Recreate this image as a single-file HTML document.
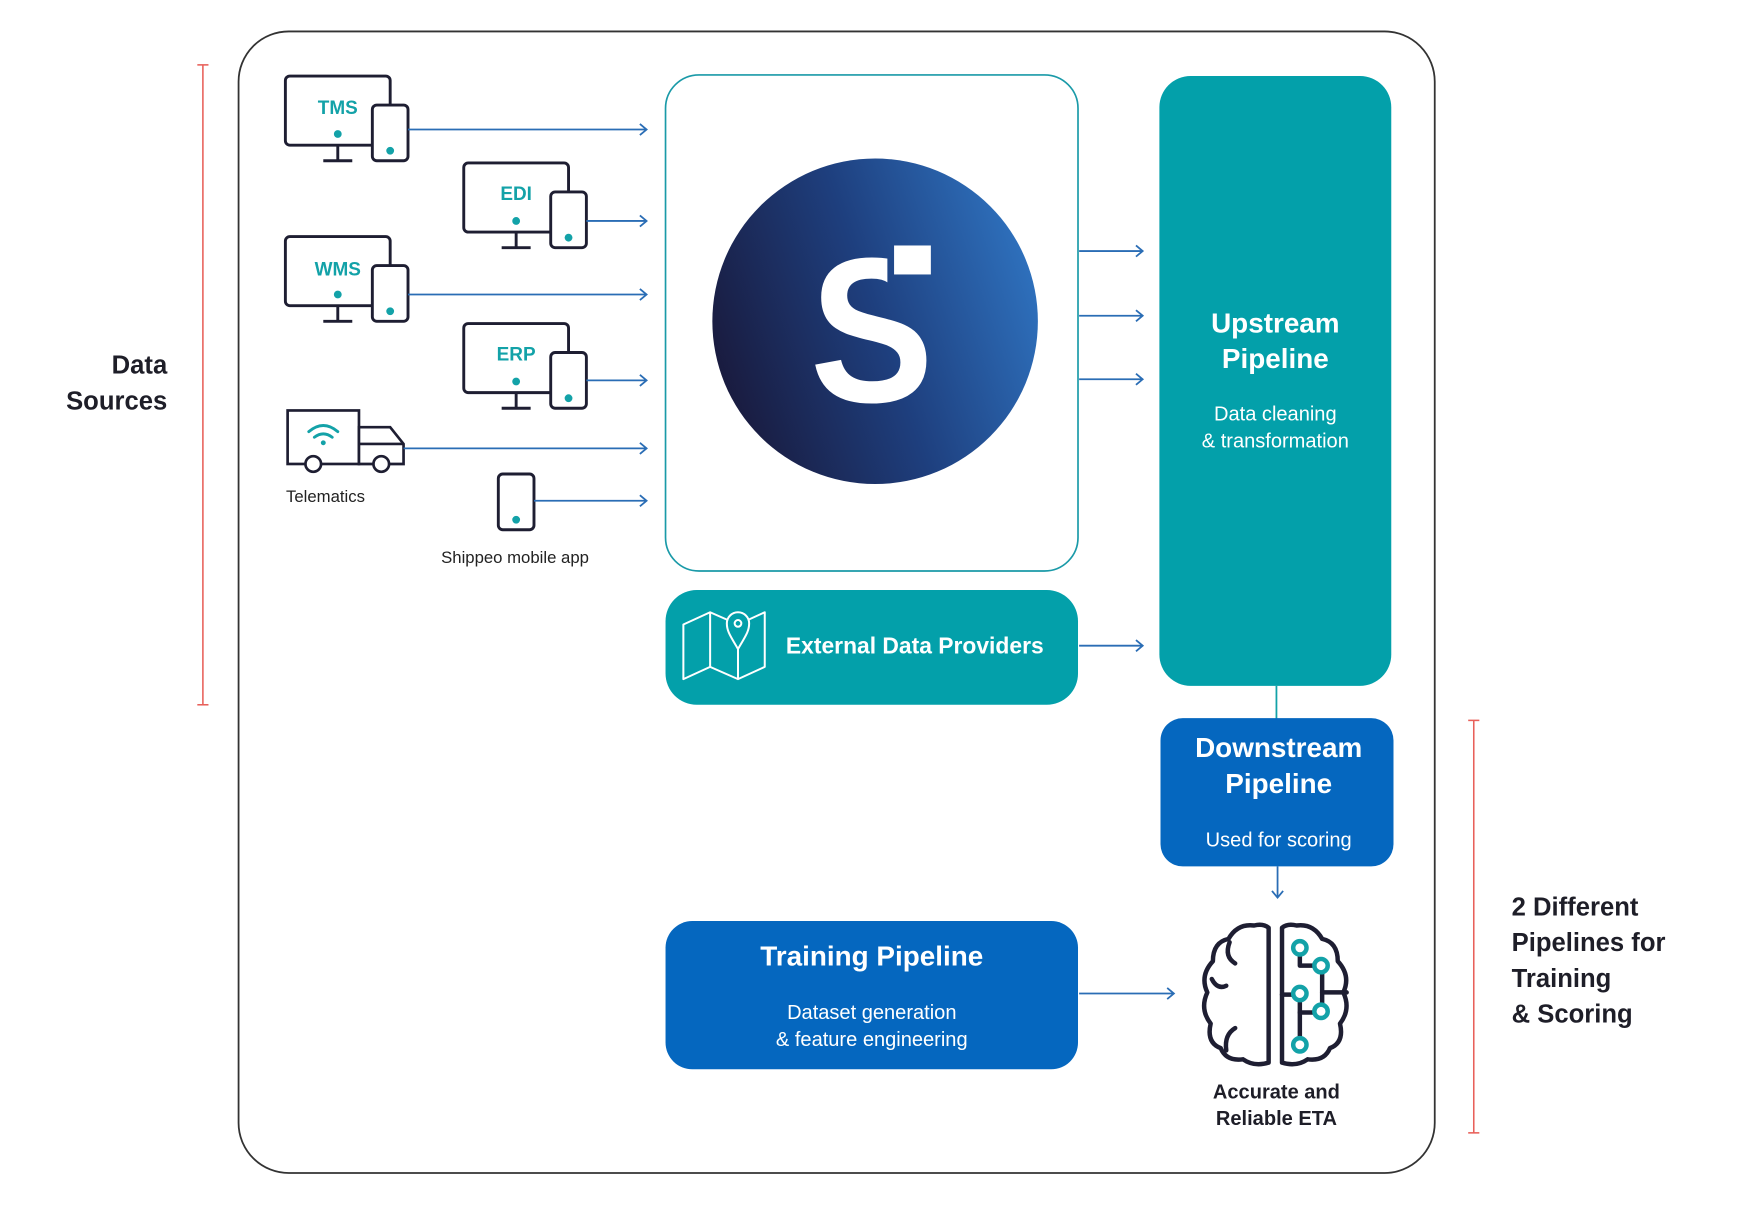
<!DOCTYPE html>
<html><head><meta charset="utf-8"><style>
html,body{margin:0;padding:0;background:#fff;width:1748px;height:1210px;overflow:hidden}
svg{display:block}
text{font-family:"Liberation Sans",sans-serif}
</style></head><body>
<svg width="1748" height="1210" viewBox="0 0 1568 1085" xmlns="http://www.w3.org/2000/svg">
<defs>
<linearGradient id="g" gradientUnits="userSpaceOnUse" x1="639" y1="330" x2="931" y2="230">
<stop offset="0" stop-color="#191a3d"/><stop offset="0.5" stop-color="#1e3f7e"/><stop offset="1" stop-color="#2f73c0"/>
</linearGradient>
<marker id="ah" markerWidth="12" markerHeight="12" refX="10" refY="6" orient="auto" markerUnits="userSpaceOnUse">
<path d="M4,1 L10,6 L4,11" fill="none" stroke="#2a6db5" stroke-width="1.6"/>
</marker>
<g id="dev">
<rect x="0" y="0" width="94" height="62" rx="4" fill="#fff" stroke="#1e1e32" stroke-width="2.6"/>
<line x1="47" y1="62" x2="47" y2="76" stroke="#1e1e32" stroke-width="2.6"/>
<line x1="34" y1="76" x2="60" y2="76" stroke="#1e1e32" stroke-width="2.6"/>
<circle cx="47" cy="52" r="3.5" fill="#13a2a8"/>
<rect x="78" y="26" width="32" height="50" rx="4" fill="#fff" stroke="#1e1e32" stroke-width="2.6"/>
<circle cx="94" cy="67" r="3.5" fill="#13a2a8"/>
</g>
</defs>
<rect x="214" y="28" width="1073" height="1024" rx="45" fill="none" stroke="#333" stroke-width="1.6"/>
<g stroke="#e8605a" stroke-width="1.4">
<line x1="182" y1="58" x2="182" y2="632"/><line x1="177" y1="58" x2="187" y2="58"/><line x1="177" y1="632" x2="187" y2="632"/>
<line x1="1322" y1="646" x2="1322" y2="1016"/><line x1="1317" y1="646" x2="1327" y2="646"/><line x1="1317" y1="1016" x2="1327" y2="1016"/>
</g>
<g font-weight="bold" font-size="23" fill="#1e1e28">
<text x="150" y="335" text-anchor="end">Data</text><text x="150" y="367" text-anchor="end">Sources</text>
<text x="1356" y="821">2 Different</text><text x="1356" y="853">Pipelines for</text><text x="1356" y="885">Training</text><text x="1356" y="917">&amp; Scoring</text>
</g>
<use href="#dev" x="256" y="68"/><text x="303" y="102" text-anchor="middle" font-weight="bold" font-size="17" fill="#13a2a8">TMS</text>
<use href="#dev" x="416" y="146"/><text x="463" y="179" text-anchor="middle" font-weight="bold" font-size="17" fill="#13a2a8">EDI</text>
<use href="#dev" x="256" y="212"/><text x="303" y="247" text-anchor="middle" font-weight="bold" font-size="17" fill="#13a2a8">WMS</text>
<use href="#dev" x="416" y="290"/><text x="463" y="323" text-anchor="middle" font-weight="bold" font-size="17" fill="#13a2a8">ERP</text>
<g stroke="#1e1e32" stroke-width="2.4" fill="#fff">
<rect x="258" y="368" width="64" height="48"/>
<path d="M322,383 L350,383 L362,398 L362,416 L322,416 Z"/>
<line x1="322" y1="398" x2="362" y2="398"/>
<circle cx="281" cy="416" r="7"/><circle cx="342" cy="416" r="7"/>
</g>
<g fill="none" stroke="#13a2a8" stroke-width="2.6" stroke-linecap="round">
<path d="M277,387 Q290,376 303,387"/><path d="M282,392 Q290,386 298,392"/>
</g>
<circle cx="290" cy="397" r="2.2" fill="#13a2a8"/>
<text x="292" y="450" text-anchor="middle" font-size="15" fill="#222">Telematics</text>
<rect x="447" y="425" width="32" height="50" rx="4" fill="#fff" stroke="#1e1e32" stroke-width="2.6"/>
<circle cx="463" cy="466" r="3.5" fill="#13a2a8"/>
<text x="462" y="505" text-anchor="middle" font-size="15" fill="#222">Shippeo mobile app</text>
<g stroke="#2a6db5" stroke-width="1.6" marker-end="url(#ah)">
<line x1="366" y1="116" x2="580" y2="116"/>
<line x1="526" y1="198" x2="580" y2="198"/>
<line x1="366" y1="264" x2="580" y2="264"/>
<line x1="526" y1="341" x2="580" y2="341"/>
<line x1="362" y1="402" x2="580" y2="402"/>
<line x1="479" y1="449" x2="580" y2="449"/>
<line x1="968" y1="225" x2="1025" y2="225"/>
<line x1="968" y1="283" x2="1025" y2="283"/>
<line x1="968" y1="340" x2="1025" y2="340"/>
<line x1="968" y1="579" x2="1025" y2="579"/>
<line x1="1146" y1="777" x2="1146" y2="805"/>
<line x1="968" y1="891" x2="1053" y2="891"/>
</g>
<line x1="1145" y1="615" x2="1145" y2="645" stroke="#13a2a8" stroke-width="1.6"/>
<rect x="597" y="67" width="370" height="445" rx="30" fill="#fff" stroke="#1a9aa8" stroke-width="1.5"/>
<circle cx="785" cy="288" r="146" fill="url(#g)"/>
<text x="782" y="360" text-anchor="middle" font-weight="bold" font-size="185" fill="#fff" transform="translate(782 0) scale(0.9 1) translate(-782 0)">S</text>
<rect x="796" y="205" width="50" height="64" fill="url(#g)"/>
<rect x="802" y="220" width="33" height="26" fill="#fff"/>
<rect x="1040" y="68" width="208" height="547" rx="28" fill="#03a0aa"/>
<g fill="#fff" text-anchor="middle">
<text x="1144" y="298" font-weight="bold" font-size="25">Upstream</text>
<text x="1144" y="330" font-weight="bold" font-size="25">Pipeline</text>
<text x="1144" y="377" font-size="18">Data cleaning</text>
<text x="1144" y="401" font-size="18">&amp; transformation</text>
</g>
<rect x="597" y="529" width="370" height="103" rx="28" fill="#03a0aa"/>
<g fill="none" stroke="#fff" stroke-width="1.8" stroke-linejoin="round">
<path d="M613,560 L637,549 L662,560 L686,549 L686,598 L662,609 L637,598 L613,609 Z"/>
<line x1="637" y1="549" x2="637" y2="598"/><line x1="662" y1="575" x2="662" y2="609"/>
<path d="M662,582 C655,570 652,566 652,559 A10,10 0 0 1 672,559 C672,566 669,570 662,582 Z" fill="#03a0aa"/>
<circle cx="662" cy="559" r="3"/>
</g>
<text x="705" y="586" font-weight="bold" font-size="20.5" fill="#fff">External Data Providers</text>
<rect x="1041" y="644" width="209" height="133" rx="20" fill="#0567bf"/>
<g fill="#fff" text-anchor="middle">
<text x="1147" y="679" font-weight="bold" font-size="25">Downstream</text>
<text x="1147" y="711" font-weight="bold" font-size="25">Pipeline</text>
<text x="1147" y="759" font-size="18">Used for scoring</text>
</g>
<rect x="597" y="826" width="370" height="133" rx="24" fill="#0567bf"/>
<g fill="#fff" text-anchor="middle">
<text x="782" y="866" font-weight="bold" font-size="25">Training Pipeline</text>
<text x="782" y="914" font-size="18">Dataset generation</text>
<text x="782" y="938" font-size="18">&amp; feature engineering</text>
</g>
<g fill="none" stroke="#1e1e32" stroke-width="4" stroke-linecap="round" stroke-linejoin="round">
<path d="M1138,832 L1138,953 Q1125,957 1115,950 Q1100,952 1095,940 Q1082,935 1086,918 Q1076,905 1083,890 Q1076,875 1088,862 Q1088,845 1102,842 Q1110,828 1125,830 Q1133,828 1138,832 Z"/>
<path d="M1150,832 L1150,953 Q1163,957 1173,950 Q1188,952 1193,940 Q1206,935 1202,918 Q1212,905 1205,890 Q1212,875 1200,862 Q1200,845 1186,842 Q1178,828 1163,830 Q1155,828 1150,832 Z"/>
<path d="M1103,845 Q1098,858 1108,864"/><path d="M1087,878 Q1092,888 1100,884"/><path d="M1108,922 Q1098,928 1100,942"/>
<path d="M1166,856 L1166,866 L1180,866"/><path d="M1186,872 L1186,890 L1208,890"/><path d="M1150,892 L1163,892"/>
<path d="M1166,898 L1166,930"/><path d="M1166,908 L1180,908"/><path d="M1186,890 L1186,900"/>
</g>
<g fill="#fff" stroke="#13a2a8" stroke-width="4">
<circle cx="1166" cy="850" r="6"/><circle cx="1185" cy="866" r="6"/><circle cx="1166" cy="891" r="6"/><circle cx="1185" cy="907" r="6"/><circle cx="1166" cy="937" r="6"/>
</g>
<g fill="#1e1e28" text-anchor="middle" font-weight="bold" font-size="18">
<text x="1145" y="985">Accurate and</text><text x="1145" y="1009">Reliable ETA</text>
</g>
</svg>
</body></html>
